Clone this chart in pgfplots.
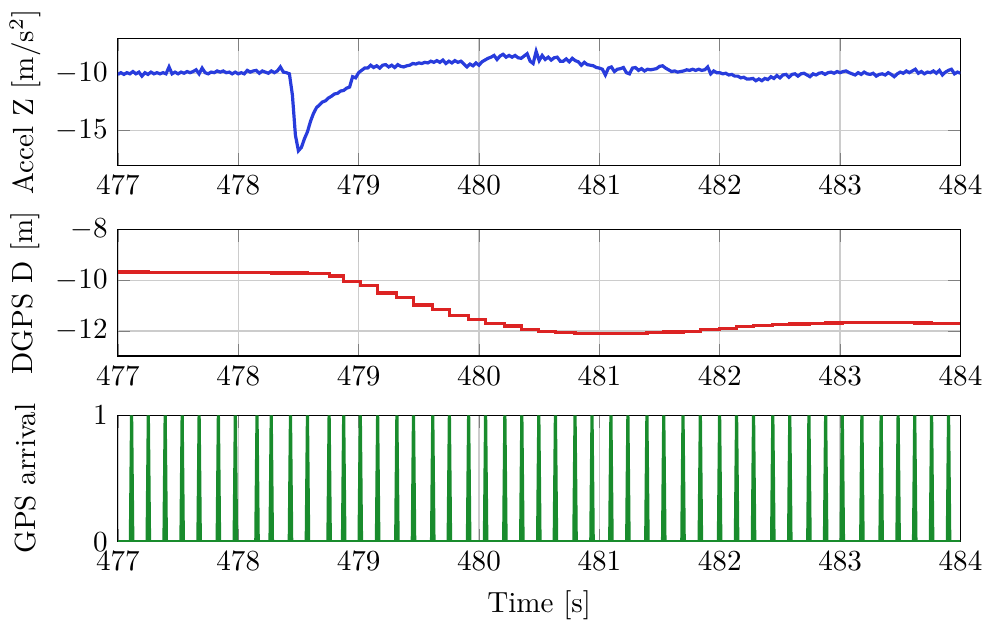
\documentclass[border=0pt]{standalone}
\usepackage{pgfplots}
\pgfplotsset{compat=1.18}
\usepackage{pgfplotstable}
\definecolor{cblue}{RGB}{40,60,220}
\definecolor{cred}{RGB}{220,35,35}
\definecolor{cgreen}{RGB}{25,140,45}

\pgfplotstableread{
t a
477.000 -10.10
477.025 -9.95
477.050 -10.10
477.075 -9.95
477.100 -10.05
477.125 -9.85
477.150 -10.05
477.175 -9.90
477.200 -10.25
477.225 -9.95
477.250 -10.10
477.275 -9.90
477.300 -10.05
477.325 -9.95
477.350 -10.05
477.375 -9.95
477.400 -10.05
477.425 -9.45
477.450 -10.05
477.475 -9.90
477.500 -10.05
477.525 -9.90
477.550 -10.00
477.575 -9.85
477.600 -9.95
477.625 -9.85
477.650 -9.70
477.675 -10.05
477.700 -9.55
477.725 -9.95
477.750 -10.05
477.775 -9.90
477.800 -9.95
477.825 -9.80
477.850 -9.90
477.875 -9.80
477.900 -9.95
477.925 -9.90
477.950 -10.05
477.975 -9.90
478.000 -10.05
478.025 -9.95
478.050 -10.05
478.075 -9.75
478.100 -9.90
478.125 -9.80
478.150 -9.75
478.175 -10.00
478.200 -9.80
478.225 -9.90
478.250 -10.00
478.275 -9.80
478.300 -9.95
478.325 -9.80
478.350 -9.45
478.375 -9.90
478.400 -9.95
478.425 -10.05
478.450 -11.90
478.475 -15.40
478.500 -16.75
478.525 -16.45
478.550 -15.70
478.575 -15.10
478.600 -14.20
478.625 -13.50
478.650 -13.00
478.675 -12.75
478.700 -12.50
478.725 -12.40
478.750 -12.15
478.775 -12.00
478.800 -11.80
478.825 -11.75
478.850 -11.55
478.875 -11.50
478.900 -11.30
478.925 -11.20
478.950 -10.30
478.975 -10.40
479.000 -9.95
479.025 -9.75
479.050 -9.55
479.075 -9.55
479.100 -9.30
479.125 -9.50
479.150 -9.35
479.175 -9.55
479.200 -9.30
479.225 -9.25
479.250 -9.45
479.275 -9.30
479.300 -9.50
479.325 -9.25
479.350 -9.40
479.375 -9.45
479.400 -9.35
479.425 -9.30
479.450 -9.15
479.475 -9.20
479.500 -9.10
479.525 -9.15
479.550 -9.05
479.575 -9.10
479.600 -8.95
479.625 -9.05
479.650 -8.90
479.675 -9.05
479.700 -8.85
479.725 -9.15
479.750 -8.95
479.775 -9.10
479.800 -8.90
479.825 -9.05
479.850 -8.95
479.875 -9.20
479.900 -9.45
479.925 -9.20
479.950 -9.35
479.975 -9.10
480.000 -9.30
480.025 -9.00
480.050 -8.85
480.075 -8.70
480.100 -8.60
480.125 -8.45
480.150 -8.80
480.175 -8.50
480.200 -8.35
480.225 -8.60
480.250 -8.45
480.275 -8.60
480.300 -8.45
480.325 -8.65
480.350 -8.70
480.375 -8.50
480.400 -8.30
480.425 -8.95
480.450 -9.15
480.475 -8.10
480.500 -8.90
480.525 -8.45
480.550 -8.80
480.575 -8.60
480.600 -8.85
480.625 -8.65
480.650 -8.60
480.675 -8.95
480.700 -8.95
480.725 -8.75
480.750 -9.00
480.775 -8.70
480.800 -8.90
480.825 -9.00
480.850 -9.30
480.875 -9.05
480.900 -9.25
480.925 -9.30
480.950 -9.35
480.975 -9.50
481.000 -9.55
481.025 -9.65
481.050 -10.15
481.075 -9.55
481.100 -9.45
481.125 -9.85
481.150 -9.65
481.175 -9.60
481.200 -9.50
481.225 -9.95
481.250 -10.05
481.275 -9.55
481.300 -9.50
481.325 -9.75
481.350 -9.60
481.375 -9.80
481.400 -9.65
481.425 -9.70
481.450 -9.65
481.475 -9.60
481.500 -9.40
481.525 -9.35
481.550 -9.55
481.575 -9.70
481.600 -9.85
481.625 -9.80
481.650 -9.90
481.675 -9.85
481.700 -9.80
481.725 -9.70
481.750 -9.75
481.775 -9.65
481.800 -9.75
481.825 -9.65
481.850 -9.75
481.875 -9.70
481.900 -9.45
481.925 -10.05
481.950 -9.80
481.975 -9.95
482.000 -9.95
482.025 -10.05
482.050 -10.00
482.075 -10.15
482.100 -10.10
482.125 -10.25
482.150 -10.25
482.175 -10.40
482.200 -10.35
482.225 -10.50
482.250 -10.50
482.275 -10.45
482.300 -10.65
482.325 -10.50
482.350 -10.65
482.375 -10.45
482.400 -10.55
482.425 -10.30
482.450 -10.45
482.475 -10.20
482.500 -10.40
482.525 -10.15
482.550 -10.10
482.575 -10.35
482.600 -10.10
482.625 -10.05
482.650 -10.25
482.675 -10.05
482.700 -10.00
482.725 -10.15
482.750 -10.30
482.775 -10.05
482.800 -10.15
482.825 -10.00
482.850 -9.95
482.875 -10.10
482.900 -9.95
482.925 -9.90
482.950 -10.00
482.975 -9.85
483.000 -9.95
483.025 -9.85
483.050 -9.80
483.075 -9.95
483.100 -10.05
483.125 -10.15
483.150 -9.95
483.175 -10.10
483.200 -9.90
483.225 -10.05
483.250 -10.10
483.275 -10.00
483.300 -10.25
483.325 -10.10
483.350 -10.05
483.375 -10.15
483.400 -9.95
483.425 -10.10
483.450 -10.30
483.475 -10.05
483.500 -9.90
483.525 -10.00
483.550 -9.80
483.575 -9.95
483.600 -9.80
483.625 -9.65
483.650 -10.00
483.675 -9.85
483.700 -10.05
483.725 -9.90
483.750 -9.95
483.775 -9.80
483.800 -10.00
483.825 -9.75
483.850 -10.15
483.875 -9.90
483.900 -9.75
483.925 -9.65
483.950 -10.05
483.975 -9.90
484.000 -10.00
}\accel

\pgfplotstableread{
t d
477.000 -9.67
477.114 -9.67
477.253 -9.68
477.393 -9.68
477.534 -9.69
477.675 -9.69
477.835 -9.70
477.976 -9.70
478.156 -9.70
478.274 -9.71
478.434 -9.71
478.575 -9.72
478.755 -9.83
478.876 -10.05
479.014 -10.21
479.158 -10.50
479.318 -10.69
479.456 -10.98
479.616 -11.17
479.754 -11.40
479.914 -11.54
480.055 -11.72
480.215 -11.81
480.356 -11.96
480.497 -12.02
480.635 -12.08
480.798 -12.10
480.939 -12.11
481.096 -12.11
481.237 -12.10
481.395 -12.08
481.535 -12.05
481.695 -12.02
481.839 -11.96
481.999 -11.92
482.140 -11.84
482.281 -11.80
482.441 -11.76
482.582 -11.73
482.741 -11.71
482.880 -11.69
483.018 -11.68
483.181 -11.67
483.341 -11.67
483.482 -11.68
483.620 -11.69
483.760 -11.70
483.901 -11.72
484.000 -11.72
}\dgps

\pgfplotstableread{
t g
477.000 0
477.104 0
477.114 1
477.124 0
477.243 0
477.253 1
477.263 0
477.383 0
477.393 1
477.403 0
477.524 0
477.534 1
477.544 0
477.665 0
477.675 1
477.685 0
477.825 0
477.835 1
477.845 0
477.966 0
477.976 1
477.986 0
478.146 0
478.156 1
478.166 0
478.264 0
478.274 1
478.284 0
478.424 0
478.434 1
478.444 0
478.565 0
478.575 1
478.585 0
478.745 0
478.755 1
478.765 0
478.866 0
478.876 1
478.886 0
479.004 0
479.014 1
479.024 0
479.148 0
479.158 1
479.168 0
479.308 0
479.318 1
479.328 0
479.446 0
479.456 1
479.466 0
479.606 0
479.616 1
479.626 0
479.744 0
479.754 1
479.764 0
479.904 0
479.914 1
479.924 0
480.045 0
480.055 1
480.065 0
480.205 0
480.215 1
480.225 0
480.346 0
480.356 1
480.366 0
480.487 0
480.497 1
480.507 0
480.625 0
480.635 1
480.645 0
480.788 0
480.798 1
480.808 0
480.929 0
480.939 1
480.949 0
481.086 0
481.096 1
481.106 0
481.227 0
481.237 1
481.247 0
481.385 0
481.395 1
481.405 0
481.525 0
481.535 1
481.545 0
481.685 0
481.695 1
481.705 0
481.829 0
481.839 1
481.849 0
481.989 0
481.999 1
482.009 0
482.130 0
482.140 1
482.150 0
482.271 0
482.281 1
482.291 0
482.431 0
482.441 1
482.451 0
482.572 0
482.582 1
482.592 0
482.731 0
482.741 1
482.751 0
482.870 0
482.880 1
482.890 0
483.008 0
483.018 1
483.028 0
483.171 0
483.181 1
483.191 0
483.331 0
483.341 1
483.351 0
483.472 0
483.482 1
483.492 0
483.610 0
483.620 1
483.630 0
483.750 0
483.760 1
483.770 0
483.891 0
483.901 1
483.911 0
484.000 0
}\gps

\pgfplotsset{
  panel/.style={
    width=289.5pt, height=43.4pt, scale only axis,
    xmin=477, xmax=484,
    xtick={477,478,479,480,481,482,483,484},
    xticklabel style={/pgf/number format/1000 sep={}},
    grid=major, grid style={black!20, line width=0.5pt},
    ylabel style={at={(axis description cs:-0.11,0.5)}, anchor=center},
    anchor=north west,
  },
}

\begin{document}
\begin{tikzpicture}
\begin{axis}[panel, at={(0,0)},
  ymin=-18, ymax=-7, ytick={-15,-10},
  ylabel={Accel Z [m/s$^2$]}]
\addplot[cblue, line width=1.1pt] table[x=t, y=a] {\accel};
\end{axis}
\begin{axis}[panel, at={(0,-65.6pt)},
  ymin=-13, ymax=-8, ytick={-12,-10,-8},
  ylabel={DGPS D [m]}]
\addplot[cred, line width=1.1pt, const plot] table[x=t, y=d] {\dgps};
\end{axis}
\begin{axis}[panel, at={(0,-129.4pt)},
  ymin=0, ymax=1, ytick={0,1},
  ylabel={GPS arrival}, xlabel={Time [s]}]
\addplot[cgreen, line width=1.1pt] table[x=t, y=g] {\gps};
\end{axis}
\end{tikzpicture}
\end{document}
